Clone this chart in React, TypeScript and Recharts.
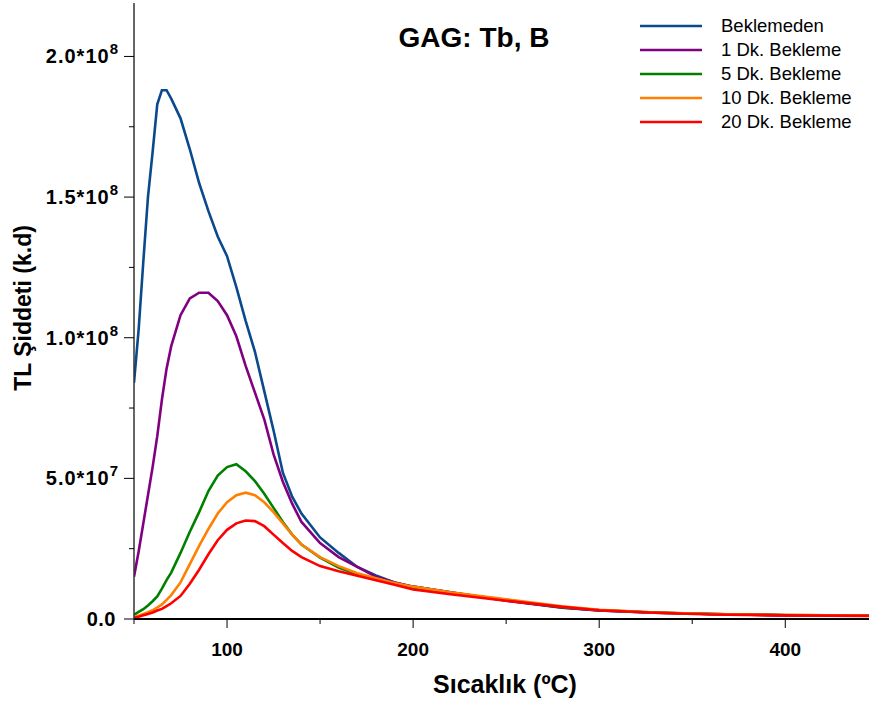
import React from 'react';
import { LineChart, Line, XAxis, YAxis } from 'recharts';

// Sıcaklık (°C)
const temps = [50, 52.5, 55, 57.5, 60, 62.5, 65, 67.5, 70, 75, 80, 85, 90, 95, 100, 105, 110, 115, 120, 125, 130, 135, 140, 150, 160, 170, 180, 190, 200, 220, 250, 280, 300, 330, 360, 400, 445];

// TL şiddeti, 10^6 k.d
const beklemeden = [84, 103, 127, 150, 166, 183, 188, 188, 185, 178, 167, 155, 145, 136, 129, 118, 106, 95, 81, 67, 52, 43.5, 37.5, 29, 23.5, 18.5, 15.5, 13, 11.5, 9.5, 6.5, 4, 3, 2.2, 1.8, 1.3, 1.2];
const dk1 = [15, 24, 34, 44, 54, 65, 78, 89, 97, 108, 114, 116, 116, 113, 108, 100.5, 90, 80.5, 71, 58.5, 48.8, 41, 34.5, 27, 22, 18.5, 15, 13, 11.5, 9.5, 6.6, 4.1, 3, 2.2, 1.8, 1.3, 1.2];
const dk5 = [1.5, 2.5, 3.5, 4.8, 6.3, 8, 10.8, 13.8, 16.5, 23.5, 31, 38, 45.5, 51, 54, 55, 52.5, 49, 44.5, 39.5, 34.5, 30, 26.5, 21.8, 18.3, 15.8, 14, 12.5, 11, 9.2, 6.8, 4.2, 3.2, 2.3, 1.8, 1.4, 1.2];
const dk10 = [0.6, 1.2, 1.8, 2.4, 3.1, 4.1, 5.2, 6.8, 8.5, 13, 19.5, 26, 32, 37.5, 41.5, 44, 44.9, 44, 41.5, 38, 34, 30, 26.5, 22, 18.8, 16.3, 14.5, 12.8, 11.5, 9.5, 7, 4.5, 3.3, 2.3, 1.8, 1.4, 1.2];
const dk20 = [0.4, 0.8, 1.3, 1.8, 2.3, 3, 3.6, 4.6, 5.6, 8.2, 12.5, 17.5, 23, 28, 31.7, 34, 35, 34.8, 33, 30, 27, 24.2, 22, 18.8, 17, 15.4, 13.8, 12.2, 10.5, 8.8, 6.5, 4.3, 3.1, 2.2, 1.6, 1.3, 1.1];

const seriesNames = ['Beklemeden', '1 Dk. Bekleme', '5 Dk. Bekleme', '10 Dk. Bekleme', '20 Dk. Bekleme'];
const seriesColors = ['#0a4a8c', '#800080', '#008000', '#ff8000', '#ff0000'];
const seriesValues = [beklemeden, dk1, dk5, dk10, dk20];

const xTicks = [50, 100, 150, 200, 250, 300, 350, 400];
const yTicks = [0, 2.5e7, 5e7, 7.5e7, 1e8, 1.25e8, 1.5e8, 1.75e8, 2e8];

const data = temps.map((t, i) => {
  const row: any = { t };
  seriesValues.forEach((vals, k) => { row['s' + k] = vals[i] * 1e6; });
  return row;
});

const font = '"Liberation Sans", Arial, sans-serif';

const XTick = (props: any) => {
  const { x, y, payload } = props;
  const major = payload.value % 100 === 0;
  return (
    <g>
      <line x1={x} x2={x} y1={y} y2={y + (major ? 9 : 5)} stroke="#000" strokeWidth={1} />
      {major && (
        <text x={x} y={y + 37} textAnchor="middle" fontFamily={font} fontWeight="bold" fontSize={19} fill="#000">
          {payload.value}
        </text>
      )}
    </g>
  );
};

const YTick = (props: any) => {
  const { x, y, payload } = props;
  const v = payload.value;
  const major = Math.round(v / 2.5e7) % 2 === 0;
  let label: React.ReactNode = null;
  if (major) {
    if (v === 0) {
      label = '0.0';
    } else {
      const exp = Math.floor(Math.log10(v));
      const mant = (v / Math.pow(10, exp)).toFixed(1);
      label = (
        <>
          {mant + '*10'}
          <tspan dy={-9} fontSize={15}>{exp}</tspan>
        </>
      );
    }
  }
  return (
    <g>
      <line x1={x - (major ? 10 : 5)} x2={x} y1={y} y2={y} stroke="#000" strokeWidth={1} />
      {major && (
        <text x={v === 0 ? x - 18 : x - 15} y={y + 7} textAnchor="end" fontFamily={font} fontWeight="bold" fontSize={20} letterSpacing={v === 0 ? 0.5 : 1} fill="#000">
          {label}
        </text>
      )}
    </g>
  );
};

export default function App() {
  return (
    <div style={{ position: 'absolute', left: 0, top: 0, width: 869, height: 704, background: '#fff' }}>
      <LineChart width={869} height={704} data={data} margin={{ top: 3, right: 0, left: 0, bottom: 5 }}>
        <XAxis
          xAxisId="top"
          orientation="top"
          dataKey="t"
          type="number"
          domain={[50, 445]}
          allowDataOverflow
          height={0}
          tick={false}
          tickLine={false}
          axisLine={{ stroke: '#666', strokeWidth: 1.5 }}
        />
        <XAxis
          dataKey="t"
          type="number"
          domain={[50, 445]}
          allowDataOverflow
          ticks={xTicks}
          tick={<XTick />}
          tickLine={false}
          tickSize={0}
          tickMargin={0}
          height={80}
          axisLine={{ stroke: '#000', strokeWidth: 2 }}
          label={{
            content: () => (
              <text x={505} y={693} textAnchor="middle" fontFamily={font} fontWeight="bold" fontSize={25} fill="#000">
                Sıcaklık (ºC)
              </text>
            ),
          }}
        />
        <YAxis
          type="number"
          domain={[0, 2.19e8]}
          allowDataOverflow
          ticks={yTicks}
          tick={<YTick />}
          tickLine={false}
          tickSize={0}
          tickMargin={0}
          width={134}
          axisLine={{ stroke: '#333', strokeWidth: 1.5 }}
          label={{
            content: () => (
              <text x={31} y={308} transform="rotate(-90 31 308)" textAnchor="middle" fontFamily={font} fontWeight="bold" fontSize={23} fill="#000">
                TL Şiddeti (k.d)
              </text>
            ),
          }}
        />
        {seriesNames.map((name, k) => (
          <Line
            key={name}
            xAxisId={0}
            type="linear"
            dataKey={'s' + k}
            name={name}
            stroke={seriesColors[k]}
            strokeWidth={2.6}
            dot={false}
            isAnimationActive={false}
          />
        ))}
      </LineChart>
      <svg width={869} height={704} style={{ position: 'absolute', left: 0, top: 0, pointerEvents: 'none' }}>
        <text x={474} y={47} textAnchor="middle" fontFamily={font} fontWeight="bold" fontSize={28} fill="#000">
          GAG: Tb, B
        </text>
        {seriesNames.map((name, k) => (
          <g key={name}>
            <line x1={640} x2={702} y1={26 + k * 24} y2={26 + k * 24} stroke={seriesColors[k]} strokeWidth={2.6} />
            <text x={721} y={32 + k * 24} fontFamily={font} fontSize={18.5} fill="#000">
              {name}
            </text>
          </g>
        ))}
      </svg>
    </div>
  );
}
